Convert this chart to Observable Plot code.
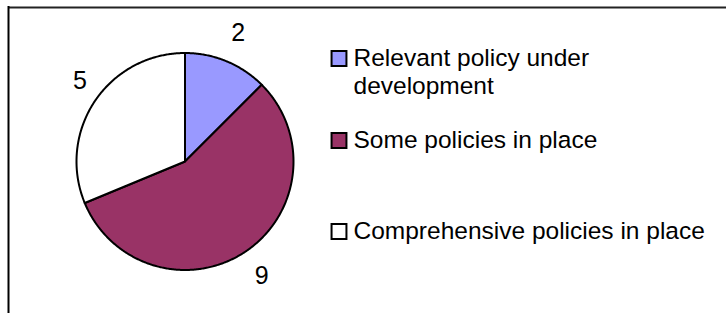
<!DOCTYPE html>
<html>
<head>
<meta charset="utf-8">
<script src="https://cdn.jsdelivr.net/npm/d3@7"></script>
<script src="https://cdn.jsdelivr.net/npm/@observablehq/plot@0.6"></script>
<style>
  html, body { margin: 0; padding: 0; background: #fff; }
  svg { display: block; }
</style>
</head>
<body>
<div id="chart"></div>
<script>
// ---- data ----
const categories = ["Relevant policy under development", "Some policies in place", "Comprehensive policies in place"];
const legendLines = [["Relevant policy under", "development"], ["Some policies in place"], ["Comprehensive policies in place"]];
const values = [2, 9, 5];
const colors = ["#9999ff", "#993366", "#ffffff"];

// ---- layout ----
const W = 726, H = 313;
const cx = 184.5, cy = 161, R = 108.5;
const labelR = [139, 138, 132];               // label distance from centre
const labelShift = [0, 0, 3.6 * Math.PI / 180]; // best-fit nudge of the label angle
const legendX = 338.5, legendTextX = 353, legendY = [58, 140, 231], lineGap = 28;
const fontFamily = "Liberation Sans, Arial, sans-serif";

const arcs = d3.pie().sort(null).value(d => d)(values);

// slice outlines, built from the pie angles
const slicePts = [];
arcs.forEach((a, i) => {
  const name = categories[i];
  slicePts.push({name, x: cx, y: cy});
  const n = Math.max(2, Math.ceil((a.endAngle - a.startAngle) / 0.01));
  for (let k = 0; k <= n; k++) {
    const t = a.startAngle + (a.endAngle - a.startAngle) * k / n;
    slicePts.push({name, x: cx + R * Math.sin(t), y: cy - R * Math.cos(t)});
  }
  slicePts.push({name, x: cx, y: cy});
});

const labels = arcs.map((a, i) => {
  const t = (a.startAngle + a.endAngle) / 2 + labelShift[i];
  return {v: values[i], x: cx + labelR[i] * Math.sin(t), y: cy - labelR[i] * Math.cos(t)};
});

const legendSw = categories.map((c, i) => ({name: c, x: legendX, y: legendY[i]}));
const legendTx = [];
legendLines.forEach((ls, i) => ls.forEach((t, j) => legendTx.push({t, x: legendTextX, y: legendY[i] + j * lineGap})));

const chart = Plot.plot({
  width: W, height: H,
  margin: 0,
  x: {domain: [0, W], axis: null},
  y: {domain: [H, 0], axis: null},
  color: {domain: categories, range: colors},
  style: {fontFamily, background: "#fff"},
  marks: [
    Plot.ruleY([7], {x1: 8, x2: W, stroke: "#222", strokeWidth: 2}),
    Plot.ruleX([8], {y1: 6, y2: H, stroke: "#000", strokeWidth: 2}),
    Plot.line(slicePts, {x: "x", y: "y", z: "name", fill: "name", stroke: "#000", strokeWidth: 2, strokeLinejoin: "round", curve: "linear"}),
    Plot.text(labels, {x: "x", y: "y", text: "v", fontSize: 25, fill: "#000"}),
    Plot.dot(legendSw, {x: "x", y: "y", symbol: "square", r: 8.4, fill: "name", stroke: "#000", strokeWidth: 2}),
    Plot.text(legendTx, {x: "x", y: "y", text: "t", textAnchor: "start", fontSize: 24.5, fill: "#000"})
  ]
});
document.getElementById("chart").appendChild(chart);
</script>
</body>
</html>
